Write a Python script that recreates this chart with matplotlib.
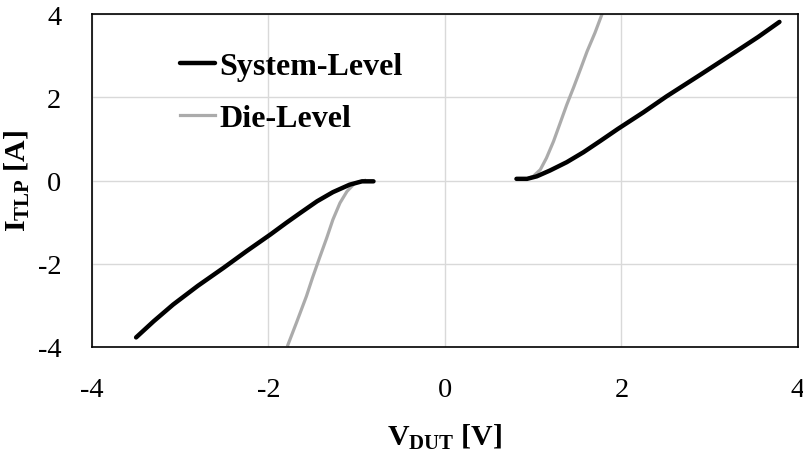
import matplotlib
matplotlib.use("Agg")
import matplotlib.pyplot as plt

# TLP I-V data (voltage in V, current in A)
sys_pos_v = [0.81, 0.93, 1.04, 1.19, 1.38, 1.57, 1.76, 1.96, 2.25, 2.51, 2.90, 3.27, 3.55, 3.79]
sys_pos_i = [0.04, 0.04, 0.10, 0.24, 0.44, 0.68, 0.95, 1.24, 1.64, 2.02, 2.55, 3.06, 3.45, 3.81]
die_pos_v = [0.93, 1.00, 1.08, 1.15, 1.23, 1.30, 1.38, 1.46, 1.54, 1.61, 1.70, 1.78]
die_pos_i = [0.04, 0.10, 0.26, 0.54, 0.94, 1.35, 1.82, 2.25, 2.70, 3.10, 3.55, 4.00]
sys_neg_v = [-0.81, -0.94, -1.08, -1.27, -1.45, -1.64, -1.80, -1.98, -2.25, -2.51, -2.80, -3.08, -3.30, -3.50]
sys_neg_i = [-0.02, -0.02, -0.10, -0.28, -0.50, -0.78, -1.02, -1.30, -1.70, -2.10, -2.53, -2.98, -3.38, -3.77]
die_neg_v = [-0.91, -1.02, -1.11, -1.19, -1.27, -1.34, -1.42, -1.50, -1.57, -1.68, -1.78]
die_neg_i = [0.00, -0.06, -0.26, -0.54, -0.94, -1.38, -1.85, -2.33, -2.78, -3.40, -3.95]

x_ticks = [-4, -2, 0, 2, 4]
y_ticks = [-4, -2, 0, 2, 4]

plt.rcParams["font.family"] = ["Liberation Serif", "DejaVu Serif"]
plt.rcParams["mathtext.fontset"] = "custom"
plt.rcParams["mathtext.rm"] = "Liberation Serif"
plt.rcParams["mathtext.bf"] = "Liberation Serif:bold"
plt.rcParams["mathtext.it"] = "Liberation Serif:italic"

fig = plt.figure(figsize=(8.04, 4.52), dpi=100)
ax = fig.add_axes([0.1144, 0.2301, 0.8781, 0.7367])

black = "#000000"
gray = "#ABABAB"

ax.plot(sys_pos_v, sys_pos_i, color=black, lw=3.2, solid_capstyle="round",
        solid_joinstyle="round", zorder=3, label="System-Level")
ax.plot(sys_neg_v, sys_neg_i, color=black, lw=3.2, solid_capstyle="round",
        solid_joinstyle="round", zorder=3)
ax.plot(die_pos_v, die_pos_i, color=gray, lw=2.3, solid_joinstyle="round", zorder=2, label="Die-Level")
ax.plot(die_neg_v, die_neg_i, color=gray, lw=2.3, solid_joinstyle="round", zorder=2)

ax.set_xlim(-4, 4)
ax.set_ylim(-4, 4)
ax.set_xticks(x_ticks)
ax.set_yticks(y_ticks)
ax.set_xticklabels([str(t) for t in x_ticks])
ax.set_yticklabels([str(t) for t in y_ticks])
ax.tick_params(axis="both", length=0, labelsize=20.5)
ax.tick_params(axis="x", pad=21.5)
ax.tick_params(axis="y", pad=22)

ax.grid(True, color="#D9D9D9", lw=1.0, zorder=0)
ax.set_axisbelow(True)
for s in ax.spines.values():
    s.set_color("#000000")
    s.set_linewidth(1.2)

ax.set_xlabel(r"$\mathbf{V_{DUT}}$ [V]", fontsize=21.5, fontweight="bold", labelpad=14)
ax.set_ylabel(r"$\mathbf{I_{TLP}}$ [A]", fontsize=21.5, fontweight="bold", labelpad=4)

leg = ax.legend(loc="upper left", bbox_to_anchor=(0.106, 0.925), frameon=False,
                handlelength=1.1, handletextpad=0.15, labelspacing=0.70,
                borderaxespad=0, prop={"family": "Liberation Serif", "weight": "bold", "size": 23})

fig.savefig("out.png", dpi=100)
